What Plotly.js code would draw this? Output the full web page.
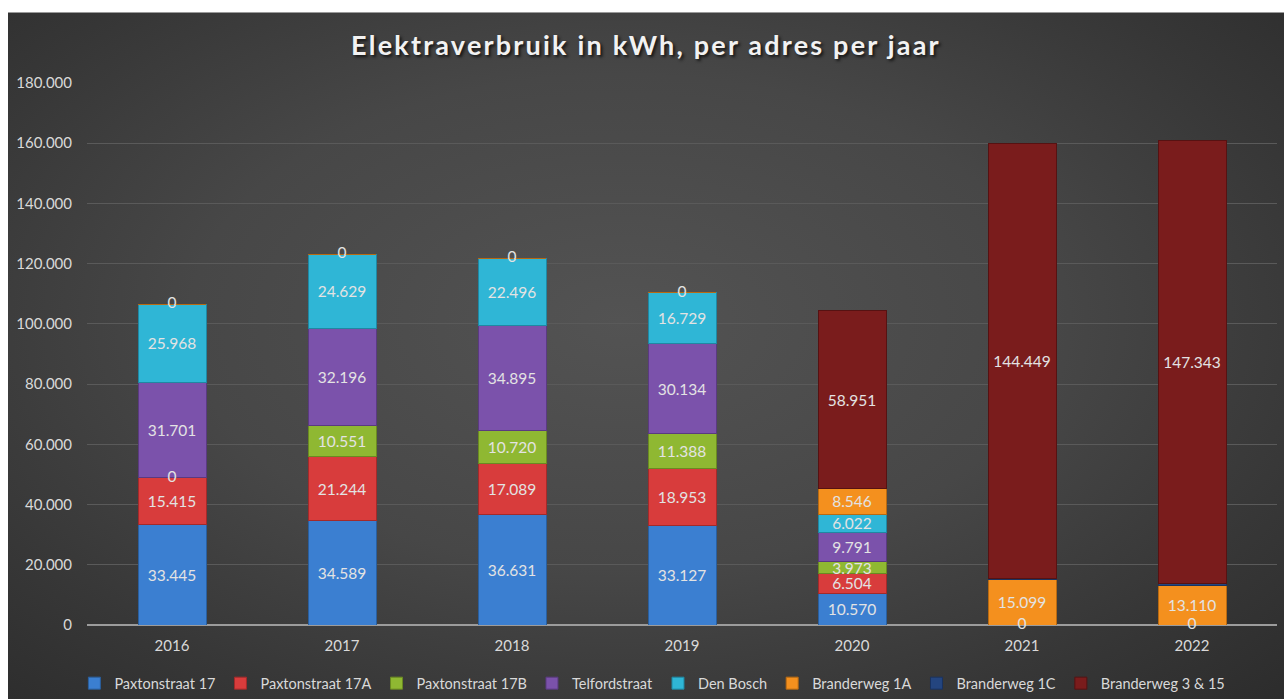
<!DOCTYPE html>
<html>
<head>
<meta charset="utf-8">
<script src="https://cdn.plot.ly/plotly-3.0.1.min.js"></script>
<style>
  html, body { margin: 0; padding: 0; background: #ffffff; width: 1284px; height: 699px; overflow: hidden; }
  #frame {
    position: absolute; left: 8px; top: 12px; width: 1276px; height: 687px;
    background: radial-gradient(ellipse 75% 80% at 48% 45%, #535353 0%, #474747 45%, #373737 75%, #2b2b2b 100%);
    border-top: 1px solid #9a9a9a;
    box-sizing: border-box;
  }
  #chart { width: 1276px; height: 686px; }
  .gtitle { letter-spacing: 2.2px; }
</style>
</head>
<body>
<div id="frame"><div id="chart"></div></div>
<script>
const years = ['2016', '2017', '2018', '2019', '2020', '2021', '2022'];

const seriesNames = ['Paxtonstraat 17', 'Paxtonstraat 17A', 'Paxtonstraat 17B', 'Telfordstraat',
                     'Den Bosch', 'Branderweg 1A', 'Branderweg 1C', 'Branderweg 3 & 15'];

const paxton17   = [33445, 34589, 36631, 33127, 10570, 0, 0];
const paxton17A  = [15415, 21244, 17089, 18953, 6504, null, null];
const paxton17B  = [0, 10551, 10720, 11388, 3973, null, null];
const telford    = [31701, 32196, 34895, 30134, 9791, null, null];
const denBosch   = [25968, 24629, 22496, 16729, 6022, null, null];
const brander1A  = [0, 0, 0, 0, 8546, 15099, 13110];
const brander1C  = [null, null, null, null, null, 400, 600];
const brander315 = [null, null, null, null, 58951, 144449, 147343];

const yTicks = [0, 20000, 40000, 60000, 80000, 100000, 120000, 140000, 160000, 180000];

const colors = ['#3b7fd1', '#d83c3c', '#8fb832', '#7b52ab', '#2fb6d6', '#f4901e', '#24457f', '#7a1c1c'];
const lineColors = ['#2a5f9e', '#a32a2a', '#6a8a22', '#5a3a80', '#1f88a3', '#b86a12', '#1a3360', '#561212'];
const showLabels = [true, true, true, true, true, true, false, true];

const allSeries = [paxton17, paxton17A, paxton17B, telford, denBosch, brander1A, brander1C, brander315];

const labelFont = { family: 'Lato, "Open Sans", sans-serif', size: 15.5, color: '#e3e3e3' };

const traces = allSeries.map((vals, k) => ({
  type: 'bar',
  name: seriesNames[k],
  x: years,
  y: vals,
  marker: { color: colors[k], line: { color: lineColors[k], width: 1 } },
  texttemplate: showLabels[k] ? '%{y:,d}' : '',
  textposition: showLabels[k] ? 'inside' : 'none',
  insidetextanchor: 'middle',
  constraintext: 'none',
  insidetextfont: labelFont,
  hoverinfo: 'x+y+name'
}));

// zero-value labels at the stacked position where each zero segment sits
const zx = [], zy = [], seen = {};
years.forEach((yr, i) => {
  let cum = 0;
  allSeries.forEach((vals) => {
    const v = vals[i];
    if (v === 0) {
      const key = yr + '_' + cum;
      if (!seen[key]) { seen[key] = true; zx.push(yr); zy.push(cum); }
    }
    if (v) cum += v;
  });
});
traces.push({
  type: 'scatter', mode: 'text', x: zx, y: zy, text: zx.map(() => '0'),
  textposition: 'middle center',
  textfont: labelFont,
  showlegend: false, hoverinfo: 'skip', cliponaxis: false
});

const layout = {
  width: 1276, height: 686,
  paper_bgcolor: 'rgba(0,0,0,0)',
  plot_bgcolor: 'rgba(0,0,0,0)',
  separators: ',.',
  barmode: 'stack',
  bargap: 0.6,
  margin: { l: 79, r: 7, t: 70, b: 74 },
  title: {
    text: 'Elektraverbruik in kWh, per adres per jaar',
    x: 0.5, xref: 'container', xanchor: 'center', y: 0.952, yanchor: 'middle',
    font: { family: 'Lato, "Open Sans", sans-serif', size: 27, weight: 700, color: '#f2f2f2', shadow: '2px 2px 3px #151515' }
  },
  font: { family: 'Lato, "Open Sans", sans-serif', color: '#d9d9d9', size: 14 },
  xaxis: {
    type: 'category',
    tickfont: { size: 15, color: '#d9d9d9' },
    showgrid: false, zeroline: false,
    showline: false, ticks: '', ticklabelstandoff: 10
  },
  yaxis: {
    range: [0, 180000],
    tickvals: yTicks,
    tickformat: ',d',
    tickfont: { size: 15, color: '#d9d9d9' },
    gridcolor: '#5a5a5a', gridwidth: 1,
    zeroline: true, zerolinecolor: '#9c9c9c', zerolinewidth: 2,
    showline: false, ticks: '', ticklabelstandoff: 14, fixedrange: true
  },
  legend: {
    orientation: 'h', x: 0.505, xref: 'container', xanchor: 'center',
    y: 0.023, yref: 'container', yanchor: 'middle',
    font: { size: 14.5, color: '#d9d9d9' },
    itemwidth: 30, traceorder: 'normal', itemclick: false
  },
  showlegend: true
};

Plotly.newPlot('chart', traces, layout, { displayModeBar: false, staticPlot: true });
</script>
</body>
</html>
